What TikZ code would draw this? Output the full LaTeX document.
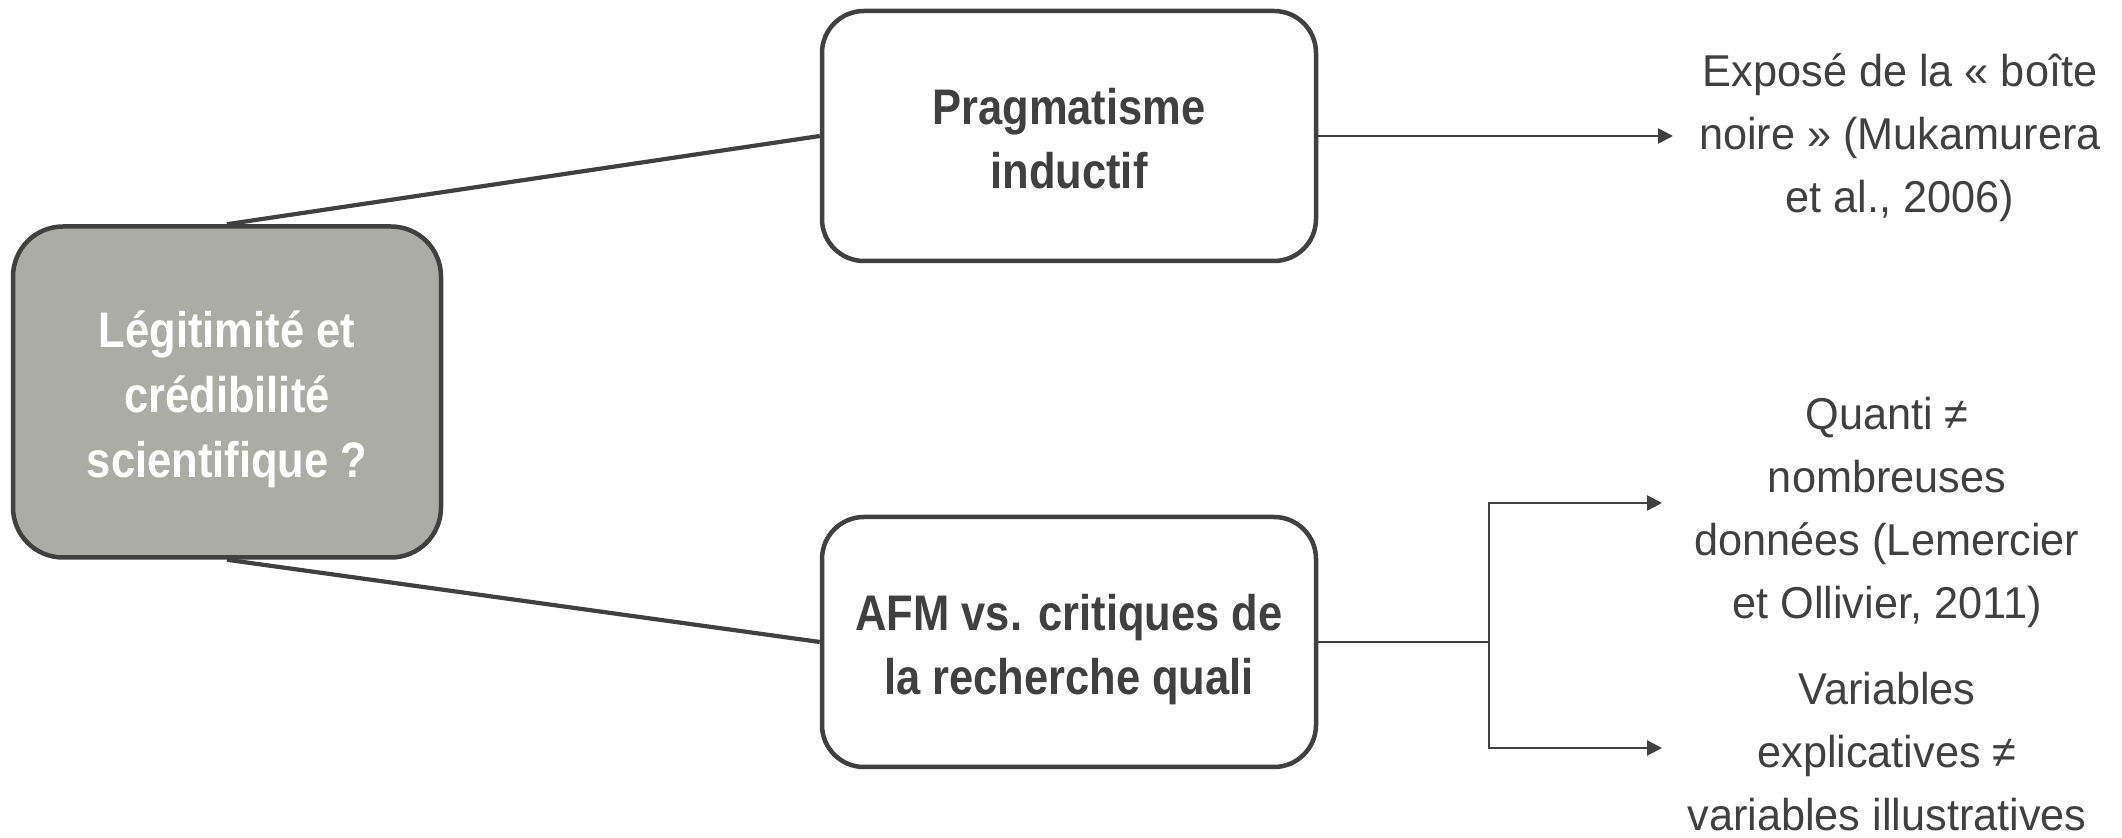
\documentclass[tikz,border=0pt]{standalone}
\usepackage{fontspec}
\usepackage{tikz}
\usetikzlibrary{arrows.meta}
\newfontfamily\notefont[FakeStretch=0.97]{Liberation Sans}
\newfontfamily\boxfont[FakeStretch=0.87]{Liberation Sans}
\definecolor{inkgray}{RGB}{64,64,64}
\definecolor{rootfill}{RGB}{171,172,166}

\begin{document}
\begin{tikzpicture}[x=0.5pt,y=0.5pt,yscale=-1,xscale=1,
  boxnode/.style={draw=inkgray,line width=2.25pt,rounded corners=21pt,fill=white,text=inkgray,align=center,inner sep=0pt,
    font=\boxfont\bfseries\fontsize{25}{32.3}\selectfont,minimum width=247pt,minimum height=125pt,
    text height=58.8pt,text depth=6pt},
  rootnode/.style={boxnode,fill=rootfill,text=white,rounded corners=25pt,minimum width=214pt,minimum height=165.5pt,
    text height=91.1pt},
  notenode/.style={text=inkgray,align=center,inner sep=0pt,font=\notefont\fontsize{22.3}{31.5}\selectfont},
  branchline/.style={draw=inkgray,line width=2.1pt},
  leadline/.style={draw=inkgray,line width=1.25pt},
  leadarrow/.style={leadline,-{Triangle[length=7.5pt,width=7.5pt]}}]
%set diagram frame to the 2122 x 838 reference
\useasboundingbox (0,0) rectangle (2122,838);

%Rounded Rect
\node[rootnode] (legit) at (227,392) {Légitimité et\\crédibilité\\scientifique ?};
%Rounded Rect
\node[boxnode] (pragma) at (1069,136) {Pragmatisme\\inductif};
%Rounded Rect
\node[boxnode] (afm) at (1069,642) {AFM vs. critiques de\\la recherche quali};

% Text Node
\node[notenode] (expose) at (1900,138) {Exposé de la « boîte\\noire » (Mukamurera\\et al., 2006)};
% Text Node
\node[notenode] (quanti) at (1887,512) {Quanti ≠\\nombreuses\\données (Lemercier\\et Ollivier, 2011)};
% Text Node
\node[notenode] (variab) at (1887,752) {Variables\\explicatives ≠\\variables illustratives};

\coordinate (tipA) at (1673,136);
\coordinate (split) at (1489,642);
\coordinate (tipB) at (1662,503);
\coordinate (tipC) at (1662,748);

%Straight Lines
\draw[branchline] (legit.north) -- (pragma.west);
\draw[branchline] (legit.south) -- (afm.west);

%Straight Lines
\draw[leadarrow] (pragma.east) -- (tipA);
\draw[leadline] (afm.east) -- (split);
\draw[leadarrow] (split) |- (tipB);
\draw[leadarrow] (split) |- (tipC);

\end{tikzpicture}
\end{document}
